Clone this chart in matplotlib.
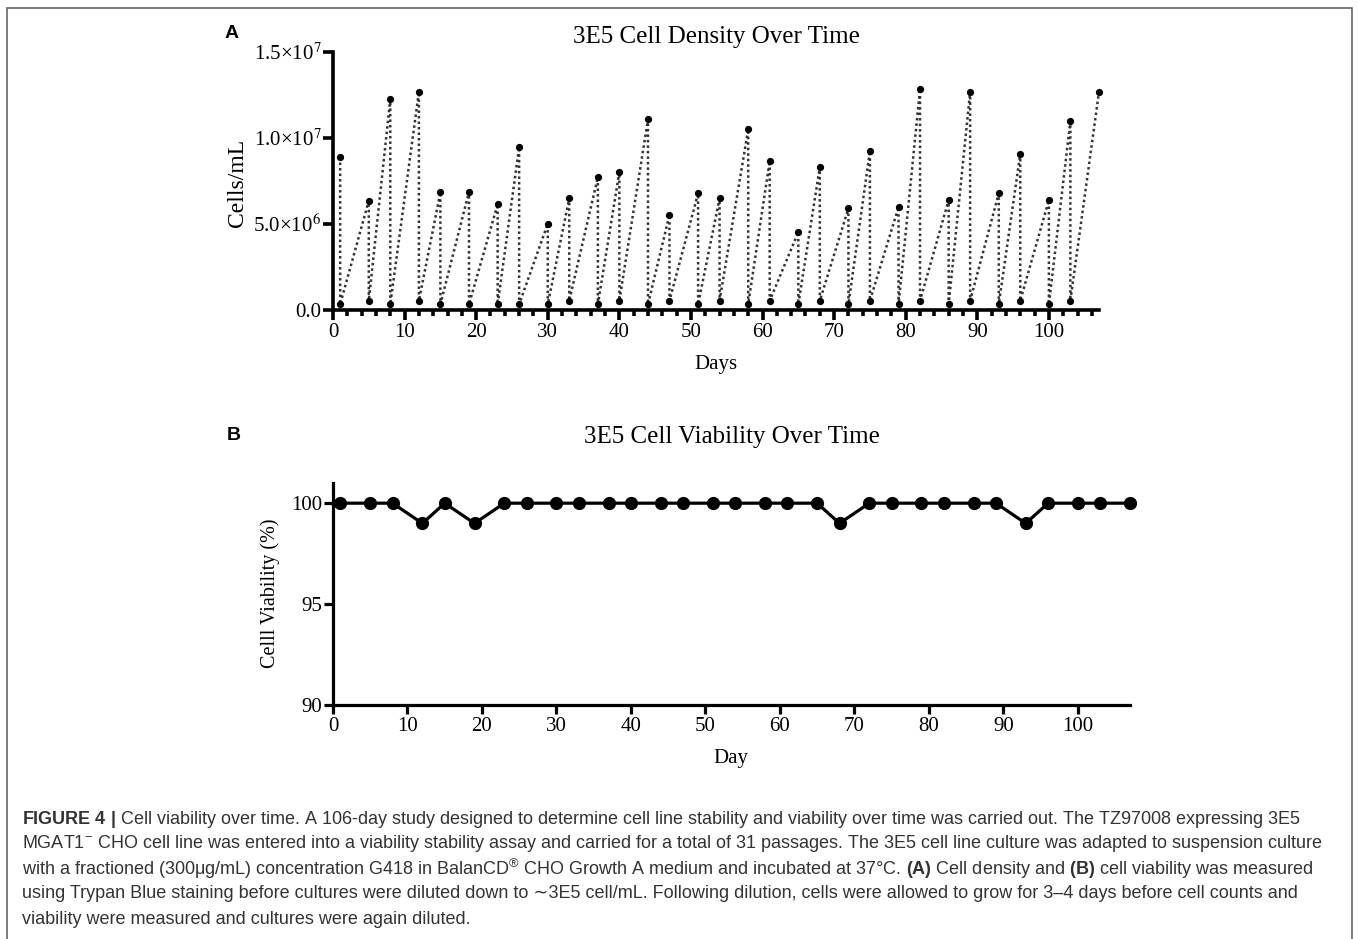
import matplotlib
matplotlib.use("Agg")
import matplotlib.pyplot as plt
from matplotlib.ticker import MultipleLocator, FixedLocator
from matplotlib.patches import Rectangle

# ---------------- data ----------------
days = [1, 5, 8, 12, 15, 19, 23, 26, 30, 33, 37, 40, 44, 47, 51, 54,
        58, 61, 65, 68, 72, 75, 79, 82, 86, 89, 93, 96, 100, 103, 107]
# cell density counted at each passage (cells/mL, x1e6)
density_peak = [8.88, 6.34, 12.24, 12.68, 6.83, 6.86, 6.14, 9.45, 5.00, 6.48,
                7.72, 8.01, 11.08, 5.52, 6.77, 6.48, 10.50, 8.65, 4.51, 8.30,
                5.89, 9.23, 5.97, 12.84, 6.38, 12.68, 6.77, 9.06, 6.38, 10.96, 12.68]
# density right after dilution (cells/mL, x1e6); none after the last day
density_seed = [0.30, 0.51, 0.30, 0.51, 0.30, 0.30, 0.30, 0.30, 0.30, 0.51,
                0.30, 0.51, 0.30, 0.51, 0.30, 0.51, 0.30, 0.51, 0.30, 0.51,
                0.30, 0.51, 0.30, 0.51, 0.30, 0.51, 0.30, 0.51, 0.30, 0.51]
viability = [100, 100, 100, 99, 100, 99, 100, 100, 100, 100, 100, 100, 100, 100,
             100, 100, 100, 100, 100, 99, 100, 100, 100, 100, 100, 100, 99, 100,
             100, 100, 100]

density_yticks = [0, 5e6, 1e7, 1.5e7]
density_yticklabels = ["0.0", r"5.0×10$^{6}$", r"1.0×10$^{7}$", r"1.5×10$^{7}$"]
viab_yticks = [90, 95, 100]
xticks_major = [0, 10, 20, 30, 40, 50, 60, 70, 80, 90, 100]

caption_lines = [
    r"$\mathbf{FIGURE\ 4\ |}$ Cell viability over time. A 106-day study designed to determine cell line stability and viability over time was carried out. The TZ97008 expressing 3E5",
    r"MGAT1$^{-}$ CHO cell line was entered into a viability stability assay and carried for a total of 31 passages. The 3E5 cell line culture was adapted to suspension culture",
    r"with a fractioned (300μg/mL) concentration G418 in BalanCD$^{\circledR}$ CHO Growth A medium and incubated at 37°C. $\mathbf{(A)}$ Cell density and $\mathbf{(B)}$ cell viability was measured",
    "using Trypan Blue staining before cultures were diluted down to ∼3E5 cell/mL. Following dilution, cells were allowed to grow for 3–4 days before cell counts and",
    "viability were measured and cultures were again diluted.",
]

# ---------------- style ----------------
plt.rcParams["font.family"] = ["Liberation Serif", "DejaVu Serif"]
plt.rcParams["mathtext.fontset"] = "stix"
plt.rcParams["mathtext.rm"] = "Liberation Sans"
plt.rcParams["mathtext.bf"] = "Liberation Sans:bold"
plt.rcParams["mathtext.it"] = "Liberation Sans:italic"

W, H = 1358, 939
fig = plt.figure(figsize=(W / 100, H / 100), dpi=100)

def fx(px):
    return px / W

def fy(py):
    return 1 - py / H

# ---------------- panel A ----------------
axA = fig.add_axes([fx(333), fy(309.5), fx(1099) - fx(333), fy(52) - fy(309.5)])
xs, ys = [], []
for i, d in enumerate(days):
    xs.append(d)
    ys.append(density_peak[i] * 1e6)
    if i < len(density_seed):
        xs.append(d)
        ys.append(density_seed[i] * 1e6)
axA.plot(xs, ys, linestyle=(0, (1, 1.2)), color="#333333", linewidth=1.8,
         marker="o", markersize=4.2, markerfacecolor="black",
         markeredgecolor="black", clip_on=False, zorder=3)
axA.set_xlim(0, 107)
axA.set_ylim(0, 1.5e7)
axA.set_yticks(density_yticks)
axA.set_yticklabels(density_yticklabels)
axA.xaxis.set_major_locator(FixedLocator(xticks_major))
axA.xaxis.set_minor_locator(MultipleLocator(2))
for s in ["top", "right"]:
    axA.spines[s].set_visible(False)
for s in ["left", "bottom"]:
    axA.spines[s].set_linewidth(2.6)
axA.tick_params(axis="both", which="major", direction="out", length=7.5,
                width=2.6, labelsize=15, pad=2)
axA.tick_params(axis="x", which="minor", direction="out", length=4.5, width=2.6)
axA.tick_params(axis="y", which="major", pad=1)
fig.text(fx(716), fy(37), "3E5 Cell Density Over Time", ha="center", va="center",
         fontsize=18)
fig.text(fx(716), fy(364), "Days", ha="center", va="center", fontsize=15)
fig.text(fx(237), fy(183), "Cells/mL", ha="center", va="center", rotation=90,
         fontsize=17)
fig.text(fx(232), fy(33), "A", ha="center", va="center", fontsize=14,
         fontweight="bold", family=["Liberation Sans", "DejaVu Sans"])

# ---------------- panel B ----------------
axB = fig.add_axes([fx(333), fy(705), fx(1130) - fx(333), fy(483) - fy(705)])
axB.plot(days, viability, color="black", linewidth=2.3, marker="o",
         markersize=8.5, clip_on=False, zorder=3)
axB.set_xlim(0, 107)
axB.set_ylim(90, 101)
axB.set_yticks(viab_yticks)
axB.xaxis.set_major_locator(FixedLocator(xticks_major))
for s in ["top", "right"]:
    axB.spines[s].set_visible(False)
for s in ["left", "bottom"]:
    axB.spines[s].set_linewidth(2.3)
axB.tick_params(axis="both", which="major", direction="out", length=6.5,
                width=2.3, labelsize=15, pad=2)
axB.tick_params(axis="y", which="major", pad=1)
fig.text(fx(732), fy(437), "3E5 Cell Viability Over Time", ha="center", va="center",
         fontsize=18)
fig.text(fx(731), fy(759), "Day", ha="center", va="center", fontsize=15)
fig.text(fx(270), fy(593), "Celll Viability (%)", ha="center", va="center",
         rotation=90, fontsize=14.5)
fig.text(fx(234), fy(436), "B", ha="center", va="center", fontsize=14,
         fontweight="bold", family=["Liberation Sans", "DejaVu Sans"])

# ---------------- caption ----------------
for k, line in enumerate(caption_lines):
    fig.text(fx(22), fy(819 + 25 * k), line, ha="left", va="center",
             fontsize=12.95, color="#333333",
             family=["Liberation Sans", "DejaVu Sans"],
             math_fontfamily="custom")

# frame around the figure
fig.patches.append(Rectangle((fx(7), fy(960)), fx(1352) - fx(7), fy(8) - fy(960),
                             transform=fig.transFigure, fill=False,
                             edgecolor="#666666", linewidth=1.2, zorder=0))

fig.savefig("out.png", dpi=100)
